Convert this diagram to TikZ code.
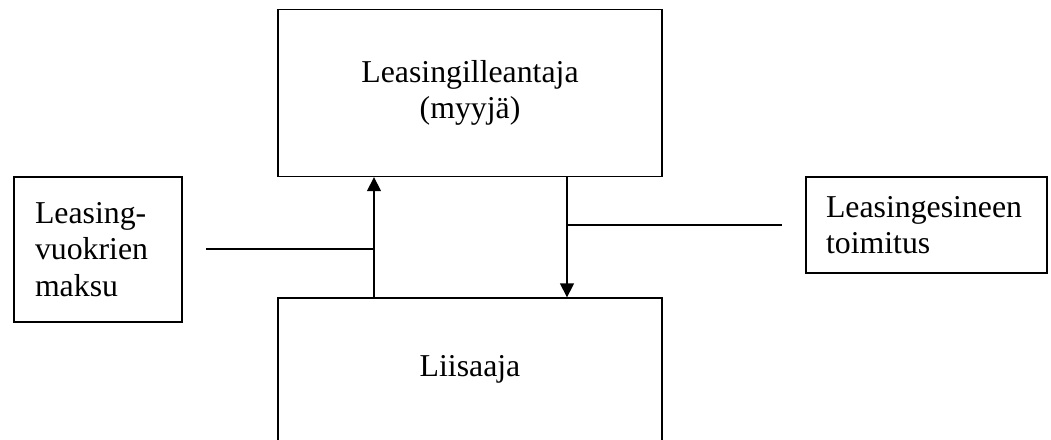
\documentclass[tikz,border=0pt]{standalone}
\usepackage{fontspec}
\setmainfont{Liberation Serif}
\usetikzlibrary{arrows.meta}

\begin{document}
\begin{tikzpicture}[x=1pt,y=-1pt,
  box/.style={rectangle,draw,line width=1.3pt,inner sep=0pt,font=\fontsize{31.8pt}{36.5pt}\selectfont},
  flow/.style={line width=1.3pt,-{Triangle[length=14pt,width=14pt]}}]
\useasboundingbox (0,0) rectangle (1051,439);
\clip (0,0) rectangle (1051,439);
\node [box,minimum width=384pt,minimum height=167pt,align=center] (lessor) at (470,93) {Leasingilleantaja\\(myyjä)};
\node [box,minimum width=384pt,minimum height=143pt] (lessee) at (470,369.5) {Liisaaja};
\node [box,minimum width=168pt,minimum height=145pt,text width=126pt,align=left] (payment) at (98,249.5) {Leasing-\\vuokrien\\maksu};
\node [box,minimum width=241pt,minimum height=96pt,text width=201pt,align=left] (delivery) at (926.5,225) {Leasingesineen\\toimitus};
\coordinate (pay) at (374,249);
\coordinate (payend) at (206,249);
\coordinate (deliv) at (567,225);
\coordinate (delivend) at (782,225);
\draw [flow] (pay |- lessee.north) -- (pay |- lessor.south);
\draw [line width=1.3pt] (payend) -- (pay);
\draw [flow] (deliv |- lessor.south) -- (deliv |- lessee.north);
\draw [line width=1.3pt] (deliv) -- (delivend);
\end{tikzpicture}
\end{document}
